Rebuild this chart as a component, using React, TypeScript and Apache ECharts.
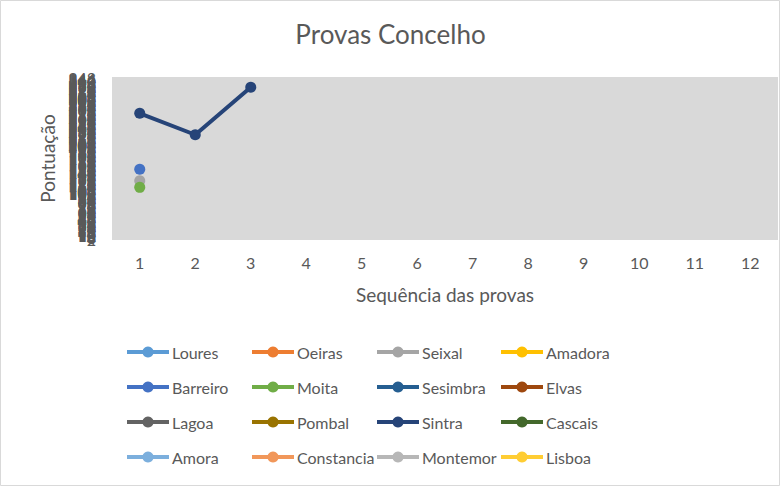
import React, { useEffect, useRef } from "react";
import * as echarts from "echarts";

const categories = ["1", "2", "3", "4", "5", "6", "7", "8", "9", "10", "11", "12"];

const seriesNames = [
  "Loures", "Oeiras", "Seixal", "Amadora",
  "Barreiro", "Moita", "Sesimbra", "Elvas",
  "Lagoa", "Pombal", "Sintra", "Cascais",
  "Amora", "Constancia", "Montemor", "Lisboa",
];

const seriesColors = [
  "#5B9BD5", "#ED7D31", "#A5A5A5", "#FFC000",
  "#4472C4", "#70AD47", "#255E91", "#9E480E",
  "#636363", "#997300", "#264478", "#43682B",
  "#7CAFDD", "#F1975A", "#B7B7B7", "#FFCD33",
];

const loures: number[] = [];
const oeiras: number[] = [];
const seixal: number[] = [127];
const amadora: number[] = [];
const barreiro: number[] = [152];
const moita: number[] = [113];
const sesimbra: number[] = [];
const elvas: number[] = [];
const lagoa: number[] = [];
const pombal: number[] = [];
const sintra: number[] = [272, 226, 328];
const cascais: number[] = [];
const amora: number[] = [];
const constancia: number[] = [];
const montemor: number[] = [];
const lisboa: number[] = [];

const seriesData = [
  loures, oeiras, seixal, amadora,
  barreiro, moita, sesimbra, elvas,
  lagoa, pombal, sintra, cascais,
  amora, constancia, montemor, lisboa,
];

const yMin = 0;
const yMax = 350;
const yInterval = 2;

const FONT = "Lato, 'Noto Sans', sans-serif";
const TEXT = "#595959";

export default function App() {
  const ref = useRef<HTMLDivElement>(null);
  useEffect(() => {
    if (!ref.current) return;
    const chart = echarts.init(ref.current, undefined, { renderer: "svg" });
    const legendLefts = [125, 250, 375, 499];
    const legends = legendLefts.map((left, col) => ({
      orient: "vertical",
      left,
      top: 344,
      padding: 0,
      itemWidth: 42,
      itemHeight: 14,
      itemGap: 19,
      selectedMode: false,
      lineStyle: { width: 4 },
      textStyle: { fontSize: 16, color: TEXT, fontFamily: FONT, lineHeight: 14, padding: [0, 0, 0, -2] },
      data: [0, 1, 2, 3].map((r) => seriesNames[r * 4 + col]),
    }));
    chart.setOption({
      animation: false,
      backgroundColor: "#FFFFFF",
      title: {
        text: "Provas Concelho",
        left: "center",
        top: 16,
        textStyle: { fontSize: 26, fontWeight: "normal", color: TEXT, fontFamily: FONT },
      },
      legend: legends,
      grid: { left: 112, right: 3, top: 77, bottom: 247, containLabel: false, show: true, backgroundColor: "#D9D9D9", borderWidth: 0 },
      xAxis: {
        type: "category",
        data: categories,
        boundaryGap: true,
        axisLine: { show: false },
        axisTick: { show: false },
        axisLabel: { fontSize: 16, color: TEXT, fontFamily: FONT, margin: 14 },
        name: "Sequência das provas",
        nameLocation: "middle",
        nameGap: 45,
        nameTextStyle: { fontSize: 19, color: TEXT, fontFamily: FONT },
      },
      yAxis: {
        type: "value",
        min: yMin,
        max: yMax,
        interval: yInterval,
        axisLine: { show: false },
        axisTick: { show: false },
        splitLine: { show: false },
        axisLabel: { fontSize: 16, color: TEXT, fontFamily: FONT, margin: 16 },
        name: "Pontuação",
        nameLocation: "middle",
        nameGap: 55,
        nameTextStyle: { fontSize: 19, color: TEXT, fontFamily: FONT },
      },
      graphic: [
        {
          type: "rect",
          shape: { x: 0.5, y: 0.5, width: 779, height: 485 },
          style: { fill: "none", stroke: "#D9D9D9", lineWidth: 1 },
          silent: true,
        },
      ],
      series: seriesNames.map((name, i) => ({
        name,
        type: "line",
        data: seriesData[i],
        color: seriesColors[i],
        symbol: "circle",
        symbolSize: 11,
        showSymbol: true,
        lineStyle: { width: 4, color: seriesColors[i] },
        itemStyle: { color: seriesColors[i] },
      })),
    });
    return () => chart.dispose();
  }, []);
  return (
    <div
      ref={ref}
      style={{ position: "fixed", left: 0, top: 0, width: 781, height: 487 }}
    />
  );
}
